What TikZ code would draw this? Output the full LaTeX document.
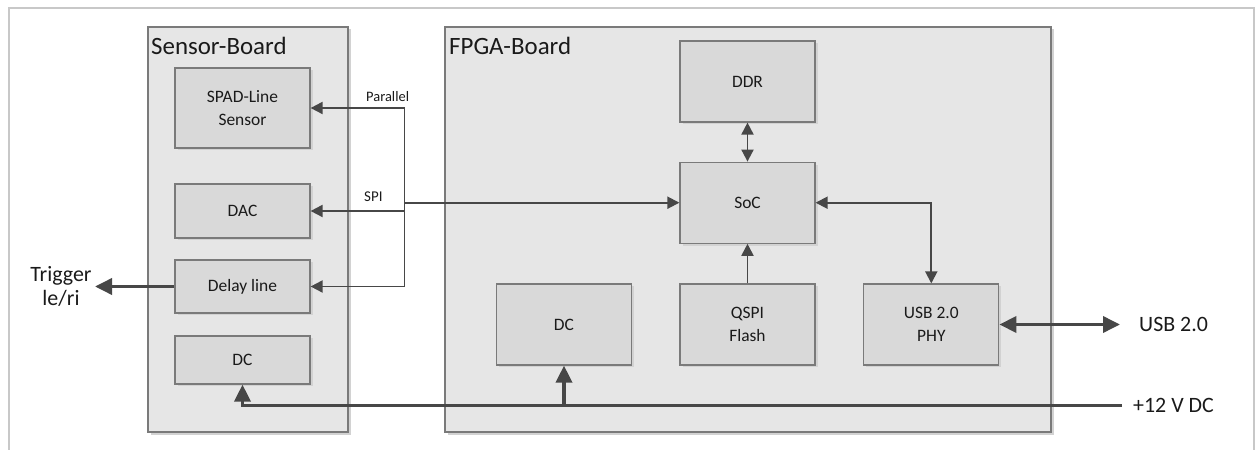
\documentclass[tikz,border=0pt]{standalone}
\usepackage{fontspec}
\setmainfont{Carlito}
\usetikzlibrary{arrows.meta,shadows}
\definecolor{linegray}{HTML}{474747}
\definecolor{boardfill}{HTML}{E6E6E6}
\definecolor{boxfill}{HTML}{D9D9D9}
\definecolor{edgegray}{HTML}{7A7A7A}
\definecolor{shadowgray}{HTML}{D2D2D2}
\definecolor{framegray}{HTML}{C8C8C8}
\definecolor{txt}{HTML}{1A1A1A}
\tikzset{
  fs/.style={font=\fontsize{#1}{#1}\selectfont},
  board/.style={draw=edgegray, fill=boardfill, line width=1.2bp, inner sep=0pt,
    drop shadow={shadow xshift=2.5bp, shadow yshift=-2.5bp, fill=shadowgray, opacity=1}},
  blk/.style={draw=edgegray, fill=boxfill, line width=1.2bp, inner sep=0pt,
    minimum width=135bp, align=center, text=txt, font=\fontsize{17.5}{22.5}\selectfont,
    drop shadow={shadow xshift=2.5bp, shadow yshift=-2.5bp, fill=shadowgray, opacity=1}},
  lbl/.style={text=txt, inner sep=0pt},
  conn/.style={draw=linegray, line width=1.9bp},
  thickconn/.style={draw=linegray, line width=3.6bp},
  tip/.style={-{Triangle[length=12bp,width=12bp]}},
  tips/.style={{Triangle[length=12bp,width=12bp]}-{Triangle[length=12bp,width=12bp]}},
  bigtip/.style={-{Triangle[length=17bp,width=16bp]}},
  bigtips/.style={{Triangle[length=17bp,width=16bp]}-{Triangle[length=17bp,width=16bp]}},
}
\begin{document}
\begin{tikzpicture}[x=1bp,y=-1bp]
\useasboundingbox (0,0) rectangle (1259,450);
% outer frame (open at the bottom)
\draw[framegray, line width=2bp] (9,450) -- (9,8.5) -- (1254,8.5) -- (1254,450);

% boards
\node[board, minimum width=200bp, minimum height=405bp] (sb) at (248,229.5) {};
\node[board, minimum width=606bp, minimum height=405bp] (fb) at (748,229.5) {};
\node[lbl, fs=25, anchor=base west] (sbt) at (151,55) {Sensor-Board};
\node[lbl, fs=25, anchor=base west] (fbt) at (449,55) {FPGA-Board};

% sensor board blocks
\node[blk, minimum height=80bp] (spad) at (242.5,108) {SPAD-Line\\Sensor};
\node[blk, minimum height=54bp] (dac) at (242.5,211) {DAC};
\node[blk, minimum height=53bp] (delay) at (242.5,286.5) {Delay line};
\node[blk, minimum height=48bp] (dc1) at (242.5,360) {DC};

% FPGA board blocks
\node[blk, minimum height=81bp] (ddr) at (747.5,81.5) {DDR};
\node[blk, minimum height=81bp] (soc) at (747.5,202.7) {SoC};
\node[blk, minimum height=81bp] (qspi) at (747.5,324.5) {QSPI\\Flash};
\node[blk, minimum height=81bp] (dc2) at (564,324.5) {DC};
\node[blk, minimum height=81bp] (phy) at (931.3,324.5) {USB 2.0\\PHY};

% bus to sensor board
\coordinate (busT) at (404.5,108);
\coordinate (busB) at (404.5,286.5);
\draw[conn, tip] (busT) -- (spad.east);
\draw[conn] (busT) -- (busB);
\draw[conn, tip] (busB) -- (delay.east);
\draw[conn, tip] (busT |- dac.east) -- (dac.east);
\draw[conn, tip] (busT |- soc.west) -- (soc.west);
\node[lbl, fs=14.5, anchor=base west] (par) at (366,102) {Parallel};
\node[lbl, fs=15, anchor=base west] (spi) at (364,201.5) {SPI};

% FPGA internal
\draw[conn, tips] (ddr.south) -- (soc.north);
\draw[conn, tip] (qspi.north) -- (soc.south);
\draw[conn, tips] (soc.east) -| (phy.north);

% USB
\node[lbl, fs=22, anchor=west] (usb) at (1139,324.5) {USB 2.0};
\coordinate (usbend) at (1120,324.5);
\draw[thickconn, bigtips] (phy.east) -- (usbend);

% power
\node[lbl, fs=22, anchor=west] (pwrl) at (1133,405.7) {+12 V DC};
\coordinate (pwr) at (1122,405.7);
\draw[thickconn, bigtip] (pwr) -| (dc1.south);
\draw[thickconn, bigtip] (dc2.south |- pwr) -- (dc2.south);

% trigger
\node[lbl, fs=22, anchor=base] (trigA) at (61,281.7) {Trigger};
\node[lbl, fs=22, anchor=base] (trigB) at (61,306) {le/ri};
\coordinate (trigend) at (95,286.5);
\draw[thickconn, bigtip] (delay.west) -- (trigend);
\end{tikzpicture}
\end{document}
